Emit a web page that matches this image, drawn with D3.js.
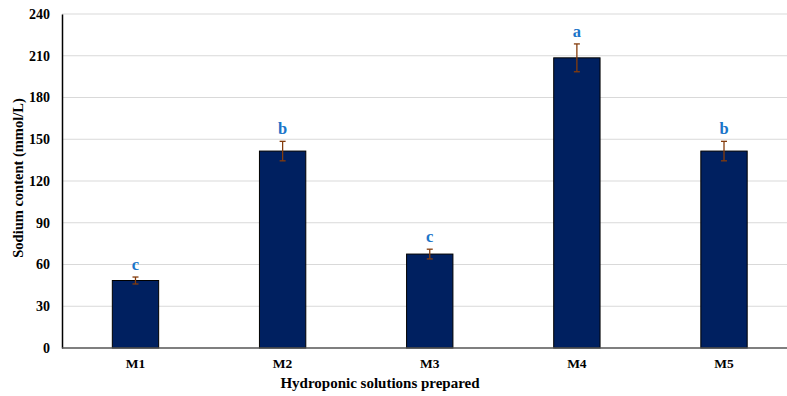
<!DOCTYPE html>
<html><head><meta charset="utf-8">
<script src="https://cdn.jsdelivr.net/npm/d3@7"></script>
<style>body{margin:0;background:#fff;} svg{display:block;}</style>
</head><body>
<svg id="c" width="787" height="396"></svg>
<script>
const categories = ["M1","M2","M3","M4","M5"];
const values = [48.5, 141.5, 67.5, 208.5, 141.5];
const errors = [2.5, 7, 3.5, 10, 7];
const letters = ["c","b","c","a","b"];
const yTicks = [0,30,60,90,120,150,180,210,240];

const svg = d3.select("#c");
const L = 62, R = 797.5, T = 14, B = 348;
const x = d3.scaleBand().domain(categories).range([L, R]).paddingInner(0.685).paddingOuter(0.342);
const y = d3.scaleLinear().domain([0,240]).range([B, T]);
const font = "'Liberation Serif','Times New Roman',serif";

// gridlines
svg.append("g").selectAll("line").data(yTicks.filter(d=>d>0)).join("line")
  .attr("x1", L).attr("x2", 787).attr("y1", d=>y(d)).attr("y2", d=>y(d))
  .attr("stroke", "#d9d9d9").attr("stroke-width", 1);

// y axis
const ya = svg.append("g").attr("transform", `translate(${L},0)`)
  .call(d3.axisLeft(y).tickValues(yTicks).tickSize(0).tickPadding(12));
ya.select(".domain").attr("stroke", "#000").attr("stroke-width", 1.5);
ya.selectAll("text").attr("font-family", font).attr("font-weight", "bold").attr("font-size", 14).attr("fill", "#000");

// bars
svg.append("g").selectAll("rect").data(values).join("rect")
  .attr("x", (d,i)=>x(categories[i])).attr("width", x.bandwidth())
  .attr("y", d=>y(d)).attr("height", d=>B - y(d))
  .attr("fill", "#002060").attr("stroke", "#000").attr("stroke-width", 1);

// x axis
const xa = svg.append("g").attr("transform", `translate(0,${B})`)
  .call(d3.axisBottom(x).tickSize(0).tickPadding(10));
xa.select(".domain").attr("stroke", "#555").attr("stroke-width", 1.5).attr("d", `M${L},0H787`);
xa.selectAll("text").attr("font-family", font).attr("font-weight", "bold").attr("font-size", 13.5).attr("fill", "#000");

// error bars
const eg = svg.append("g").attr("stroke", "#843c0c").attr("stroke-width", 1.3);
values.forEach((v,i)=>{
  const cx = x(categories[i]) + x.bandwidth()/2;
  eg.append("line").attr("x1",cx).attr("x2",cx).attr("y1",y(v+errors[i])).attr("y2",y(v-errors[i]));
  eg.append("line").attr("x1",cx-3).attr("x2",cx+3).attr("y1",y(v+errors[i])).attr("y2",y(v+errors[i]));
  eg.append("line").attr("x1",cx-3).attr("x2",cx+3).attr("y1",y(v-errors[i])).attr("y2",y(v-errors[i]));
});

// letters
svg.append("g").selectAll("text").data(letters).join("text")
  .attr("x", (d,i)=>x(categories[i]) + x.bandwidth()/2)
  .attr("y", (d,i)=>y(values[i]+errors[i]) - 7)
  .attr("text-anchor","middle").attr("font-family", font).attr("font-weight","bold")
  .attr("font-size", 16.5).attr("fill", "#1b75c9").text(d=>d);

// axis titles
svg.append("text").attr("x", 380).attr("y", 388).attr("text-anchor","middle")
  .attr("font-family", font).attr("font-weight","bold").attr("font-size", 15).text("Hydroponic solutions prepared");
svg.append("text").attr("transform", `translate(23,178) rotate(-90)`).attr("text-anchor","middle")
  .attr("font-family", font).attr("font-weight","bold").attr("font-size", 14.5).text("Sodium content (mmol/L)");
</script>
</body></html>
